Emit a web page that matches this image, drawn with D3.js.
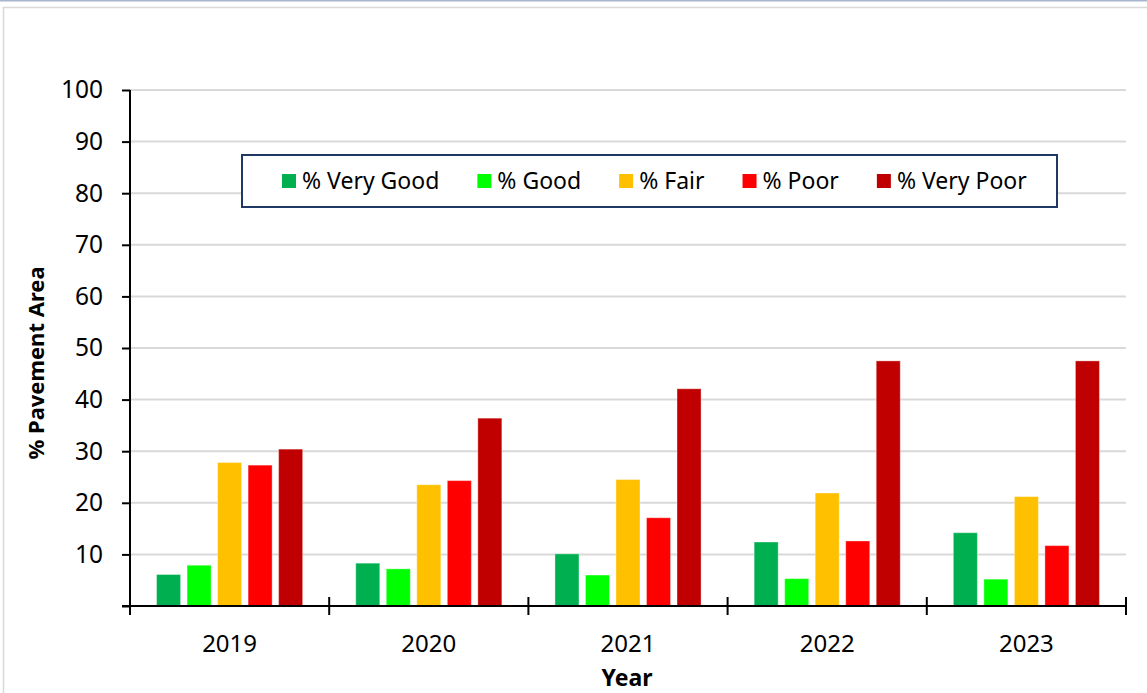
<!DOCTYPE html>
<html>
<head>
<meta charset="utf-8">
<script src="https://cdn.jsdelivr.net/npm/d3@7"></script>
<style>
  body { margin: 0; background: #fff; }
  svg { display: block; font-family: "Noto Sans", "Open Sans", sans-serif; }
</style>
</head>
<body>
<div id="chart"></div>
<script>
const years = ["2019", "2020", "2021", "2022", "2023"];
const seriesNames = ["% Very Good", "% Good", "% Fair", "% Poor", "% Very Poor"];
const seriesColors = ["#00B050", "#00FF00", "#FFC000", "#FF0000", "#C00000"];
const veryGood = [6.1, 8.3, 10.1, 12.4, 14.2];
const good = [7.9, 7.2, 6.0, 5.3, 5.2];
const fair = [27.8, 23.5, 24.5, 21.9, 21.2];
const poor = [27.3, 24.3, 17.1, 12.6, 11.7];
const veryPoor = [30.4, 36.4, 42.1, 47.5, 47.5];
const yTicks = [0, 10, 20, 30, 40, 50, 60, 70, 80, 90, 100];

const seriesValues = [veryGood, good, fair, poor, veryPoor];
const data = years.map((y, i) => ({
  year: y,
  values: seriesNames.map((s, j) => ({ key: s, value: seriesValues[j][i] }))
}));

const width = 1147, height = 693;
const margin = { top: 90, left: 130, bottom: 87, right: 21 };
const iwidth = width - margin.left - margin.right;
const iheight = height - margin.top - margin.bottom;

const svg = d3.select("#chart").append("svg")
  .attr("width", width)
  .attr("height", height);

// page frame
svg.append("line")
  .attr("x1", 0).attr("x2", width).attr("y1", 0.5).attr("y2", 0.5)
  .attr("stroke", "#A7B5CE").attr("stroke-width", 2);
svg.append("rect")
  .attr("x", 3.5).attr("y", 7.5)
  .attr("width", width + 10).attr("height", height + 10)
  .attr("fill", "none").attr("stroke", "#D9D9D9").attr("stroke-width", 1.5);

const g = svg.append("g").attr("transform", `translate(${margin.left},${margin.top})`);

const y = d3.scaleLinear().domain([0, 100]).range([iheight, 0]);
const x0 = d3.scaleBand().domain(years).range([0, iwidth]).padding(0);
const x1 = d3.scaleBand().domain(seriesNames).range([0, x0.bandwidth()])
  .paddingInner(0.213).paddingOuter(0.87);
const color = d3.scaleOrdinal().domain(seriesNames).range(seriesColors);

// gridlines
g.append("g")
  .selectAll("line")
  .data(yTicks.filter(d => d > 0))
  .enter().append("line")
  .attr("x1", 0).attr("x2", iwidth)
  .attr("y1", d => y(d)).attr("y2", d => y(d))
  .attr("stroke", "#D9D9D9").attr("stroke-width", 2);

// bars
const groups = g.selectAll(".grp").data(data).enter().append("g")
  .attr("class", "grp")
  .attr("transform", d => `translate(${x0(d.year)},0)`);

groups.selectAll("rect").data(d => d.values).enter().append("rect")
  .attr("x", d => x1(d.key))
  .attr("y", d => y(d.value))
  .attr("width", x1.bandwidth())
  .attr("height", d => iheight - y(d.value))
  .style("fill", d => color(d.key))
  .attr("stroke", "#fff").attr("stroke-opacity", 0.35).attr("stroke-width", 1);

// y axis
const yAxis = g.append("g")
  .call(d3.axisLeft(y).tickValues(yTicks).tickSize(8).tickPadding(19)
    .tickFormat(d => d === 0 ? "" : d));
yAxis.select(".domain").attr("stroke", "#000").attr("stroke-width", 2)
  .attr("d", `M0,${iheight}V0`);
yAxis.selectAll(".tick line").attr("stroke", "#000").attr("stroke-width", 2);
yAxis.selectAll("text").attr("font-size", 24.5).attr("fill", "#000")
  .attr("font-family", "Noto Sans, sans-serif");

// x axis
const xAxis = g.append("g").attr("transform", `translate(0,${iheight})`);
xAxis.append("line")
  .attr("x1", -8).attr("x2", iwidth).attr("y1", 0).attr("y2", 0)
  .attr("stroke", "#000").attr("stroke-width", 2);
const boundaries = years.map(d => x0(d)).concat([iwidth]);
xAxis.selectAll(".xt").data(boundaries).enter().append("line")
  .attr("class", "xt")
  .attr("x1", d => d).attr("x2", d => d)
  .attr("y1", -9).attr("y2", 9)
  .attr("stroke", "#000").attr("stroke-width", 2);
xAxis.selectAll(".xl").data(years).enter().append("text")
  .attr("class", "xl")
  .attr("x", d => x0(d) + x0.bandwidth() / 2)
  .attr("y", 46)
  .attr("text-anchor", "middle")
  .attr("font-size", 24)
  .text(d => d);

// axis titles
svg.append("text")
  .attr("x", margin.left + iwidth / 2 - 1)
  .attr("y", 686)
  .attr("text-anchor", "middle")
  .attr("font-size", 23).attr("font-weight", "bold")
  .text("Year");
svg.append("text")
  .attr("transform", `translate(44,${363}) rotate(-90)`)
  .attr("text-anchor", "middle")
  .attr("font-size", 22).attr("font-weight", "bold")
  .text("% Pavement Area");

// legend
const legend = svg.append("g");
legend.append("rect")
  .attr("x", 242).attr("y", 155).attr("width", 815).attr("height", 52)
  .attr("fill", "#fff").attr("stroke", "#1F3864").attr("stroke-width", 2);
let lx = 282;
seriesNames.forEach(s => {
  legend.append("rect")
    .attr("x", lx).attr("y", 174).attr("width", 14).attr("height", 14)
    .attr("fill", color(s));
  const t = legend.append("text")
    .attr("x", lx + 20).attr("y", 189)
    .attr("font-size", 23)
    .text(s);
  lx += 20 + t.node().getComputedTextLength() + 38;
});
</script>
</body>
</html>
